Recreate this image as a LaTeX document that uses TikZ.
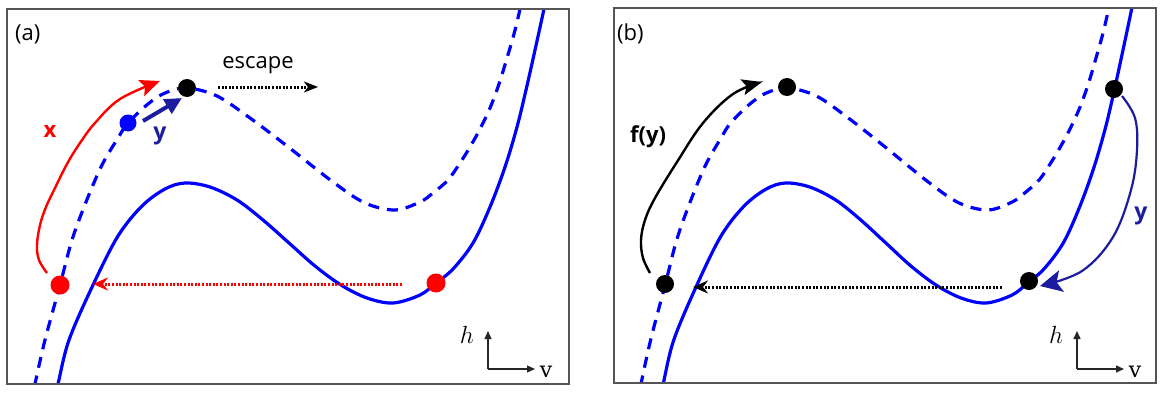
\documentclass[tikz,border=0pt]{standalone}
\usepackage{fontspec}
\setmainfont{Open Sans}
\newfontfamily\vfont{DejaVu Serif}
\usetikzlibrary{arrows.meta}
\definecolor{navy}{RGB}{28,28,158}
\definecolor{framegray}{RGB}{85,85,85}
\begin{document}
\begin{tikzpicture}[x=1pt,y=-1pt,
  curve/.style={blue, line width=3.2pt},
  dcurve/.style={blue, line width=3.2pt, dash pattern=on 11pt off 8pt},
  solidpath/.style={insert path={plot[smooth,tension=0.55] coordinates {(53,405) (58,384) (69,340) (93,285) (118,236) (142,206) (165,189) (185,183) (210,187) (237,200) (263,220) (289,243) (315,266) (341,285) (367,298) (393,303) (420,295) (436,283) (453,269) (473,243) (490,207) (505,167) (517,127) (526,90) (535,50) (544,9) (548,-10)}}},
  dashpath/.style={insert path={plot[smooth,tension=0.55] coordinates {(31,405) (35,384) (45,340) (60,285) (72,240) (86,202) (102,165) (118,138) (128,123) (148,104) (165,93) (187,88) (217,96) (250,118) (287,146) (333,182) (365,203) (395,210) (420,202) (433,193) (448,180) (460,163) (470,147) (480,129) (490,108) (499,84) (507,58) (514,34) (520,9) (523,-10)}}},
  dot/.style={circle, fill=#1, inner sep=0pt, minimum size=18pt},
  lbl/.style={font=\fontsize{22}{26}\selectfont, inner sep=0pt},
  mlbl/.style={font=\fontsize{23}{27}\selectfont, inner sep=0pt},
  frame/.style={draw=framegray, line width=1.6pt},
  axisarrow/.style={line width=1.3pt, black!85, -{Triangle[length=8pt,width=7pt]}},
  dotarrow/.style={line width=3pt, dash pattern=on 2pt off 1.6pt, -{Stealth[length=14pt,width=11pt,inset=4pt]}},
  redarrow/.style={red, line width=2.4pt, -{Stealth[length=20pt,width=17pt,inset=4pt]}},
  blackarrow/.style={black, line width=2.4pt, -{Stealth[length=20pt,width=16pt,inset=4pt]}},
  bluearrow/.style={navy, line width=4pt, -{Triangle[length=17pt,width=16pt]}},
  loopyarrow/.style={navy, line width=2.2pt, -{Stealth[length=22pt,width=22pt,inset=5pt]}}
]
\useasboundingbox (0,0) rectangle (1166,396);

% ---------------- panel (a) ----------------
\begin{scope}
  \clip (7,9) rectangle (569,384);
  \draw[dcurve, dashpath];
  \draw[curve, solidpath];
\end{scope}
\draw[frame] (7,9) rectangle (569,384);
\node[lbl, anchor=base west] (la) at (15,41) {(a)};
\node[lbl, anchor=base] (esc) at (258,68) {escape};
\node[lbl, anchor=base, red, font=\fontsize{22}{26}\selectfont\bfseries] (xl) at (50,137) {x};
\node[lbl, anchor=base, navy, font=\fontsize{23}{26}\selectfont\bfseries] (yla) at (160,139) {y};

\coordinate (e1) at (218,87);
\coordinate (e2) at (318,87);
\draw[dotarrow, black] (e1) -- (e2);
\coordinate (r1) at (402,284);
\coordinate (r2) at (93,284);
\draw[dotarrow, red, -{Stealth[length=15pt,width=13pt,inset=5pt]}] (r1) -- (r2);
\draw[redarrow] plot[smooth,tension=0.6] coordinates {(47,273) (39,260) (37,245) (40,225) (46,207) (55,188) (67,164) (80,143) (95,123) (120,99) (160,81)};
\coordinate (y1) at (143,121);
\coordinate (y2) at (182,98);
\draw[bluearrow] (y1) -- (y2);

\node[dot=black] (pa) at (187,88) {};
\node[dot=blue, minimum size=17pt] (ba) at (128,123) {};
\node[dot=red, minimum size=19pt] (ra1) at (60,285) {};
\node[dot=red, minimum size=19pt] (ra2) at (436,283) {};

\coordinate (oa) at (488,369);
\coordinate (ha) at (488,331);
\coordinate (va) at (535,369);
\draw[axisarrow] (oa) -- (ha);
\draw[axisarrow] (oa) -- (va);
\node[mlbl, anchor=base] (hla) at (467,343) {$h$};
\node[lbl, anchor=base] (vla) at (546,377) {\vfont v};

% ---------------- panel (b) ----------------
\begin{scope}
  \clip (614,8) rectangle (1156,383);
  \begin{scope}[shift={(607.25,0)}, xscale=0.964]
    \draw[dcurve, dashpath];
    \draw[curve, solidpath];
  \end{scope}
\end{scope}
\draw[frame] (614,8) rectangle (1156,383);
\node[lbl, anchor=base west] (lb) at (617,41) {(b)};
\node[lbl, anchor=base, font=\fontsize{22}{26}\selectfont\bfseries] (fy) at (648,142) {f(y)};
\node[lbl, anchor=base, navy, font=\fontsize{23}{26}\selectfont\bfseries] (ylb) at (1141,219) {y};

\coordinate (k1) at (1002,287);
\coordinate (k2) at (693,287);
\draw[dotarrow, black, -{Stealth[length=15pt,width=13pt,inset=5pt]}] (k1) -- (k2);
\draw[blackarrow] plot[smooth,tension=0.6] coordinates {(650,273) (643,258) (641,240) (645,220) (655,198) (677,162) (703,123) (733,94) (762,82)};
\draw[loopyarrow] plot[smooth,tension=0.6] coordinates {(1122,96) (1135,118) (1137,150) (1131,190) (1113,237) (1082,271) (1040,286)};

\node[dot=black] (pb) at (787,87) {};
\node[dot=black] (lb1) at (665,284) {};
\node[dot=black] (ub) at (1114,89) {};
\node[dot=black] (db) at (1029,281) {};

\coordinate (ob) at (1077,369);
\coordinate (hb) at (1077,331);
\coordinate (vb) at (1124,369);
\draw[axisarrow] (ob) -- (hb);
\draw[axisarrow] (ob) -- (vb);
\node[mlbl, anchor=base] (hlb) at (1056,343) {$h$};
\node[lbl, anchor=base] (vlb) at (1135,377) {\vfont v};
\end{tikzpicture}
\end{document}
